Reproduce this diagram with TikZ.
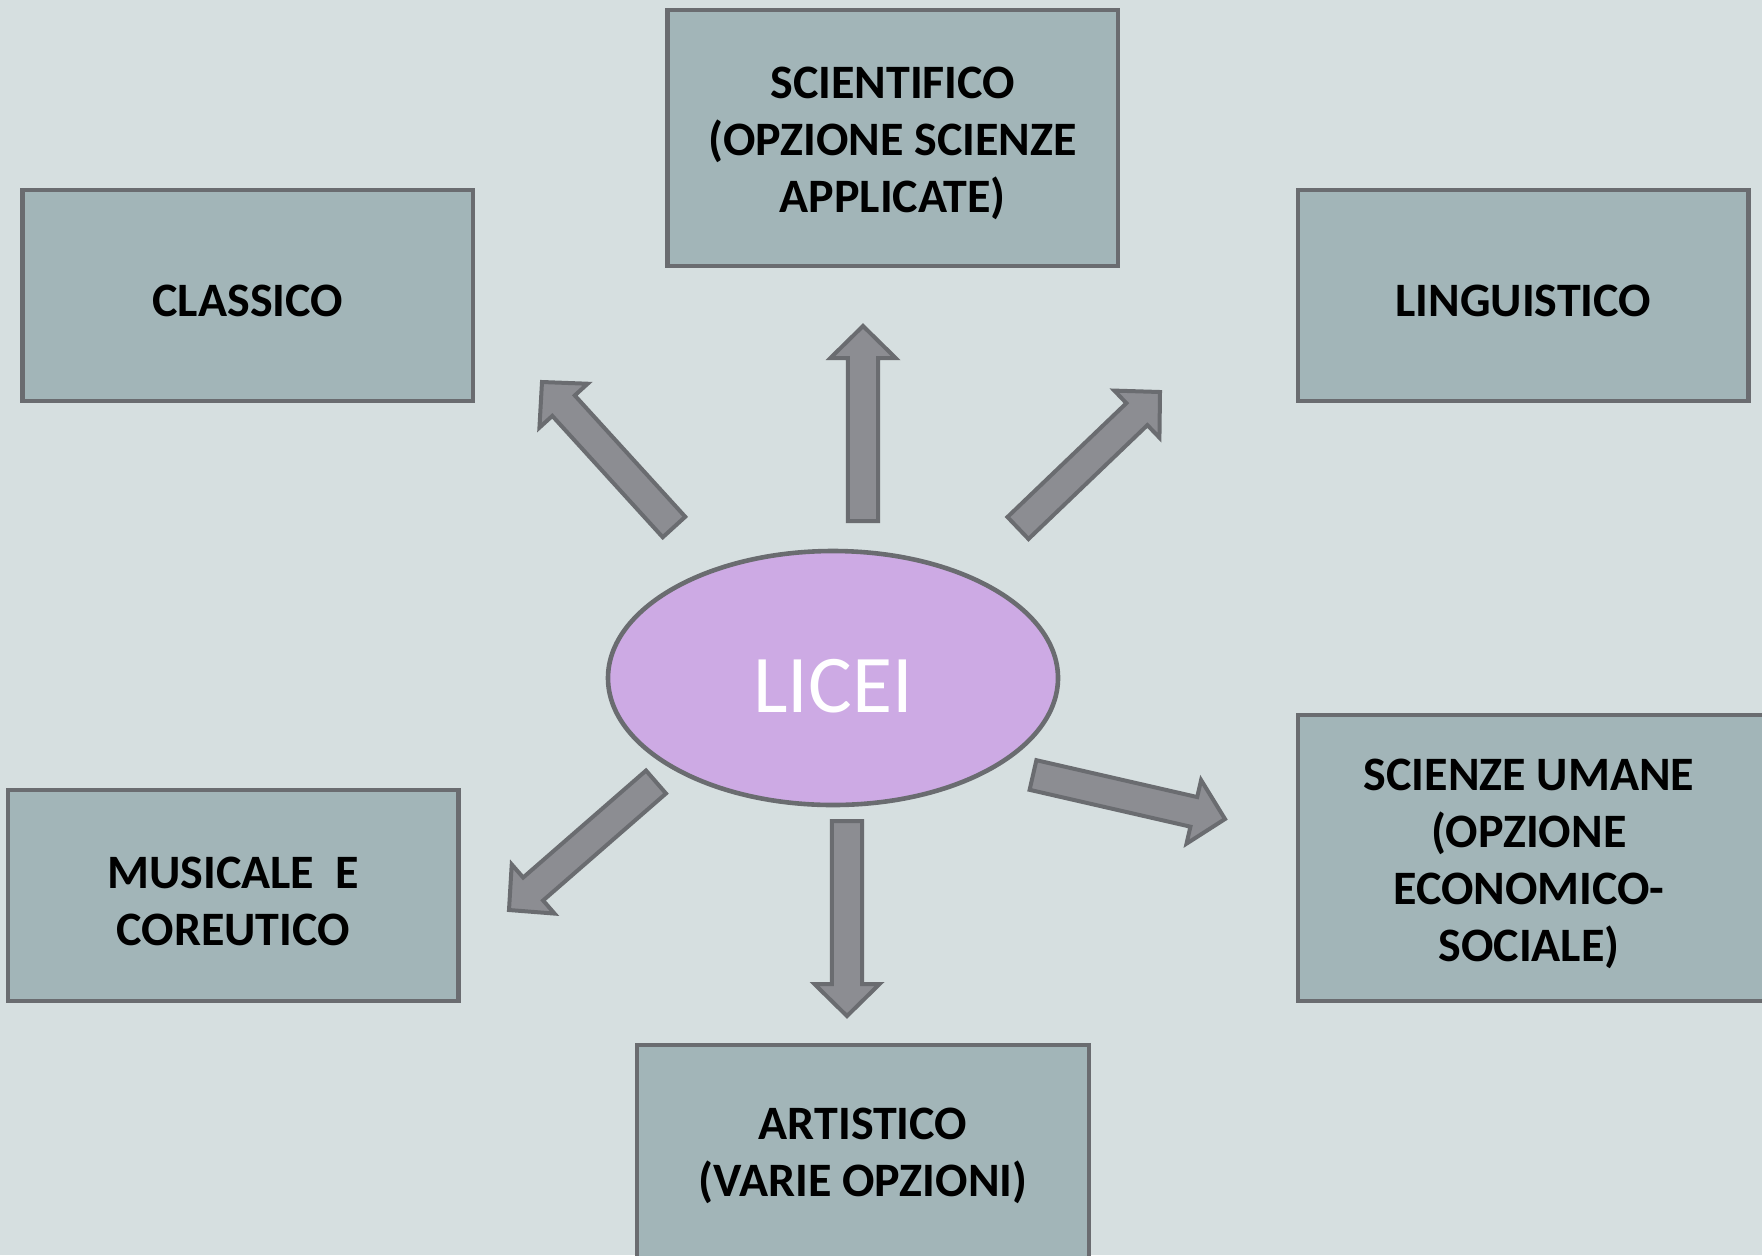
\documentclass[tikz,border=0pt]{standalone}
\usepackage{fontspec}
\setmainfont{Carlito}
\usetikzlibrary{calc,shapes.geometric}
\definecolor{bg}{RGB}{214,223,224}
\definecolor{boxfill}{RGB}{162,181,184}
\definecolor{edge}{RGB}{106,108,112}
\definecolor{arrfill}{RGB}{140,141,146}
\definecolor{ovalfill}{RGB}{205,170,228}
\newcommand\fatarr[2]{%
  \coordinate (hb) at ($(#2)!16pt!(#1)$);
  \draw[fatarrow] ($(#1)!7.6pt!90:(#2)$) -- ($(hb)!7.6pt!90:(#2)$) -- ($(hb)!16.3pt!90:(#2)$)
    -- (#2) -- ($(hb)!16.3pt!-90:(#2)$) -- ($(hb)!7.6pt!-90:(#2)$) -- ($(#1)!7.6pt!-90:(#2)$) -- cycle;}
\begin{document}
\begin{tikzpicture}[x=0.5pt,y=-0.5pt,
  box/.style={draw=edge, fill=boxfill, line width=2.3pt, inner sep=0pt},
  boxtext/.style={align=center, inner sep=0pt, yshift=-2.8pt,
    font=\bfseries\fontsize{24}{28.5}\selectfont},
  fatarrow/.style={draw=edge, fill=arrfill, line width=2pt, line join=miter}]
\fill[bg] (0,0) rectangle (1762,1255);
\useasboundingbox (0,0) rectangle (1762,1255);
\begin{scope}
\clip (0,0) rectangle (1762,1255);
% boxes
\node[box, minimum width=225.25pt, minimum height=128pt] (sci) at (892.75,138) {};
\node[box, minimum width=225.25pt, minimum height=105.5pt] (cla) at (247.75,295.5) {};
\node[box, minimum width=225.25pt, minimum height=105.5pt] (lin) at (1523.25,295.5) {};
\node[box, minimum width=225.25pt, minimum height=105.5pt] (mus) at (233.25,895.5) {};
\node[box, minimum width=236pt, minimum height=143pt] (sum) at (1534,858) {};
\node[box, minimum width=226pt, minimum height=110pt] (art) at (863,1155) {};
\end{scope}
\node[boxtext] (scit) at (sci.center) {SCIENTIFICO\\(OPZIONE SCIENZE\\APPLICATE)};
\node[boxtext] (clat) at (cla.center) {CLASSICO};
\node[boxtext] (lint) at (lin.center) {LINGUISTICO};
\node[boxtext] (must) at (mus.center) {MUSICALE\ \ E\\COREUTICO};
\node[boxtext] (sumt) at (1529,858) {SCIENZE UMANE\\(OPZIONE\\ECONOMICO-\\SOCIALE)};
\node[boxtext] (artt) at (863,1150) {ARTISTICO\\(VARIE OPZIONI)};
% centre
\node[ellipse, draw=edge, fill=ovalfill, line width=2.3pt, minimum width=225pt, minimum height=127pt, inner sep=0pt] (lic) at (833,678) {};
\node[text=white, font=\fontsize{41}{49}\selectfont] (lict) at (833,686) {LICEI};
% arrows
\coordinate (t1) at (863,521);  \coordinate (h1) at (863,326);
\coordinate (t2) at (674,527);  \coordinate (h2) at (542,382);
\coordinate (t3) at (1018,528); \coordinate (h3) at (1160,392);
\coordinate (t4) at (656,782);  \coordinate (h4) at (509,910);
\coordinate (t5) at (847,821);  \coordinate (h5) at (847,1016);
\coordinate (t6) at (1033,775); \coordinate (h6) at (1225,819);
\fatarr{t1}{h1}
\fatarr{t2}{h2}
\fatarr{t3}{h3}
\fatarr{t4}{h4}
\fatarr{t5}{h5}
\fatarr{t6}{h6}
\end{tikzpicture}
\end{document}
